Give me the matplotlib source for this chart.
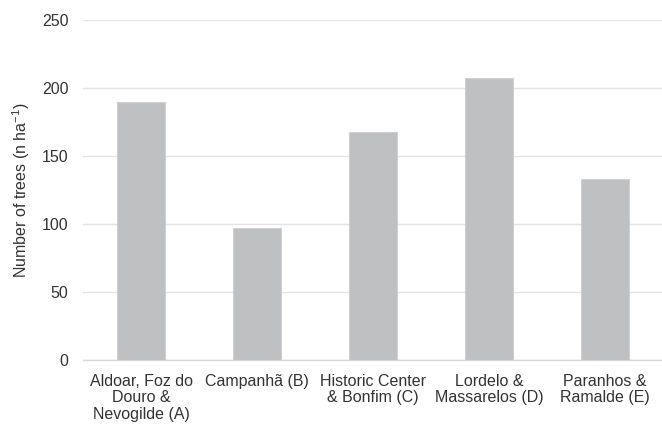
import matplotlib
matplotlib.use('Agg')
import matplotlib.pyplot as plt

plt.rcParams['font.family'] = ['Liberation Sans', 'DejaVu Sans']
plt.rcParams['mathtext.default'] = 'regular'

# Data
districts = ['Aldoar, Foz do\nDouro &\nNevogilde (A)', 'Campanhã (B)',
             'Historic Center\n& Bonfim (C)', 'Lordelo &\nMassarelos (D)',
             'Paranhos &\nRamalde (E)']
trees_per_ha = [190, 97, 168, 208, 133]
y_ticks = [0, 50, 100, 150, 200, 250]

text_color = '#333333'

fig = plt.figure(figsize=(6.62, 4.24), dpi=100)
ax = fig.add_axes([0.1254, 0.151, 0.876, 0.8007])

x = range(len(districts))
ax.bar(x, trees_per_ha, width=0.41, color='#bfc0c2', edgecolor='#d0d0d2',
       linewidth=0.8, zorder=3)

ax.set_xlim(-0.5, 4.5)
ax.set_ylim(0, 250)
ax.set_yticks(y_ticks)
ax.set_xticks(list(x))
ax.set_xticklabels(districts, fontsize=11.5, color=text_color, linespacing=1.12)
ax.tick_params(axis='y', labelsize=11.5, labelcolor=text_color, length=0, pad=10.5)
ax.tick_params(axis='x', length=0, pad=10)

ax.grid(axis='y', color='#e4e4e4', linewidth=1.0, zorder=0)
for side in ['top', 'right', 'left']:
    ax.spines[side].set_visible(False)
ax.spines['bottom'].set_color('#d9d9d9')
ax.spines['bottom'].set_linewidth(1.0)

ax.set_ylabel('Number of trees (n ha$^{-1}$)', fontsize=11.5, color=text_color, labelpad=7)

fig.savefig('out.png', dpi=100)
